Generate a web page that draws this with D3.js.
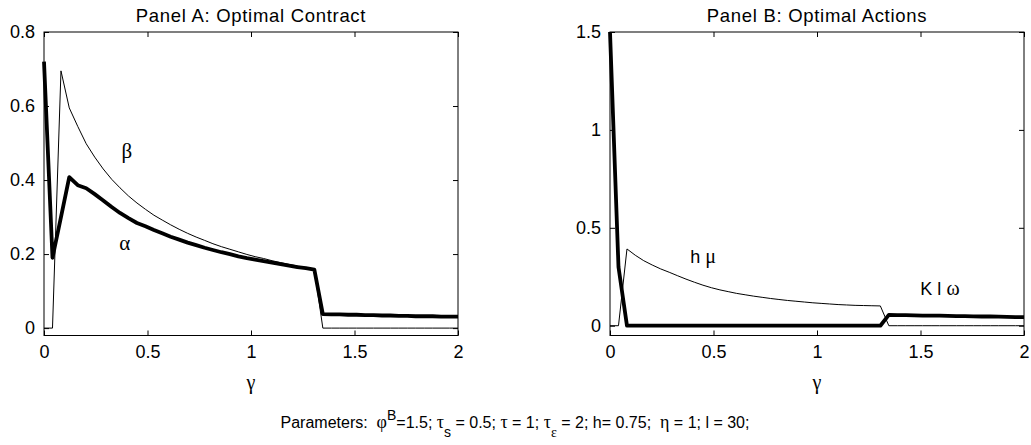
<!DOCTYPE html>
<html>
<head>
<meta charset="utf-8">
<script src="https://cdn.jsdelivr.net/npm/d3@7"></script>
<style>
  html, body { margin: 0; padding: 0; background: #fff; }
  svg { display: block; }
  text { fill: #000; }
</style>
</head>
<body>
<svg id="chart" width="1031" height="445"></svg>
<script>
// ---- data ----
const gamma = [0, 0.041, 0.082, 0.122, 0.163, 0.204, 0.245, 0.286, 0.327, 0.367,
  0.408, 0.449, 0.490, 0.531, 0.571, 0.612, 0.653, 0.694, 0.735, 0.776,
  0.816, 0.857, 0.898, 0.939, 0.980, 1.020, 1.061, 1.102, 1.143, 1.184,
  1.224, 1.265, 1.306, 1.347, 1.388, 1.429, 1.469, 1.510, 1.551, 1.592,
  1.633, 1.673, 1.714, 1.755, 1.796, 1.837, 1.878, 1.918, 1.959, 2.000];

const alphaVals = [0.72, 0.19, 0.30, 0.408, 0.386, 0.378, 0.362, 0.345, 0.327, 0.311,
  0.297, 0.284, 0.275, 0.265, 0.256, 0.247, 0.239, 0.231, 0.224, 0.217,
  0.211, 0.205, 0.200, 0.194, 0.189, 0.185, 0.181, 0.177, 0.173, 0.169,
  0.165, 0.162, 0.158, 0.038, 0.037, 0.037, 0.036, 0.036, 0.035, 0.035,
  0.034, 0.034, 0.033, 0.033, 0.032, 0.032, 0.032, 0.031, 0.031, 0.031];

const betaVals = [0, 0, 0.695, 0.595, 0.545, 0.498, 0.462, 0.430, 0.402, 0.379,
  0.357, 0.338, 0.321, 0.305, 0.292, 0.279, 0.267, 0.256, 0.246, 0.237,
  0.228, 0.220, 0.213, 0.206, 0.199, 0.193, 0.188, 0.182, 0.177, 0.172,
  0.168, 0.163, 0.159, 0, 0, 0, 0, 0, 0, 0,
  0, 0, 0, 0, 0, 0, 0, 0, 0, 0];

const hmuVals = [0, 0, 0.392, 0.360, 0.332, 0.310, 0.290, 0.273, 0.255, 0.238,
  0.222, 0.207, 0.194, 0.183, 0.174, 0.165, 0.158, 0.151, 0.145, 0.139,
  0.134, 0.129, 0.125, 0.121, 0.117, 0.114, 0.111, 0.108, 0.106, 0.104,
  0.103, 0.102, 0.101, 0, 0, 0, 0, 0, 0, 0,
  0, 0, 0, 0, 0, 0, 0, 0, 0, 0];

const klwVals = [1.5, 0.30, 0, 0, 0, 0, 0, 0, 0, 0,
  0, 0, 0, 0, 0, 0, 0, 0, 0, 0,
  0, 0, 0, 0, 0, 0, 0, 0, 0, 0,
  0, 0, 0, 0.055, 0.054, 0.054, 0.053, 0.052, 0.052, 0.051,
  0.050, 0.049, 0.049, 0.048, 0.047, 0.047, 0.046, 0.045, 0.044, 0.044];

const xTicks = [0, 0.5, 1, 1.5, 2];
const yTicksA = [0, 0.2, 0.4, 0.6, 0.8];
const yTicksB = [0, 0.5, 1, 1.5];
const titleA = "Panel A: Optimal Contract";
const titleB = "Panel B: Optimal Actions";

// ---- drawing ----
const svg = d3.select("#chart");
const SANS = "'Liberation Sans', Arial, sans-serif";
const SERIF = "'Liberation Serif', 'Times New Roman', serif";
const TOP = 32, BOTTOM = 335.5;

function panel(opts) {
  const x = d3.scaleLinear().domain([0, 2]).range([opts.left, opts.right]);
  const y = d3.scaleLinear().domain(opts.yDomain).range([BOTTOM, TOP]);
  const g = svg.append("g");

  const fmt = d => String(d);
  const styleAxis = sel => {
    sel.select(".domain").remove();
    sel.selectAll(".tick line").attr("stroke", "#000").attr("stroke-width", 1);
    sel.selectAll("text").attr("font-family", SANS).attr("font-size", 18).attr("fill", "#000");
  };
  g.append("g").attr("transform", `translate(0,${BOTTOM})`)
    .call(d3.axisBottom(x).tickValues(xTicks).tickFormat(fmt).tickSize(-5).tickPadding(10))
    .call(styleAxis);
  g.append("g").attr("transform", `translate(0,${TOP})`)
    .call(d3.axisTop(x).tickValues(xTicks).tickFormat("").tickSize(-5))
    .call(styleAxis);
  g.append("g").attr("transform", `translate(${opts.left},0)`)
    .call(d3.axisLeft(y).tickValues(opts.yTicks).tickFormat(fmt).tickSize(-5).tickPadding(9))
    .call(styleAxis);
  g.append("g").attr("transform", `translate(${opts.right},0)`)
    .call(d3.axisRight(y).tickValues(opts.yTicks).tickFormat("").tickSize(-5))
    .call(styleAxis);

  g.append("rect")
    .attr("x", opts.left).attr("y", TOP)
    .attr("width", opts.right - opts.left).attr("height", BOTTOM - TOP)
    .attr("fill", "none").attr("stroke", "#000").attr("stroke-width", 1);

  const line = vals => d3.line().x((d, i) => x(gamma[i])).y(d => y(d))(vals);
  g.append("path").attr("d", line(opts.thin))
    .attr("fill", "none").attr("stroke", "#000").attr("stroke-width", 1);
  g.append("path").attr("d", line(opts.thick))
    .attr("fill", "none").attr("stroke", "#000").attr("stroke-width", 3.8)
    .attr("stroke-linejoin", "round");

  g.append("text").attr("x", (opts.left + opts.right) / 2).attr("y", 22)
    .attr("text-anchor", "middle").attr("font-family", SANS).attr("font-size", 18.5)
    .attr("letter-spacing", 0.7)
    .text(opts.title);
  g.append("text").attr("x", (opts.left + opts.right) / 2).attr("y", 389)
    .attr("text-anchor", "middle").attr("font-family", SERIF).attr("font-size", 20)
    .text("γ");
  return { x, y, g };
}

const A = panel({ left: 44, right: 458, yDomain: [-0.02, 0.8], yTicks: yTicksA,
  thin: betaVals, thick: alphaVals, title: titleA });
const B = panel({ left: 610, right: 1024, yDomain: [-0.05, 1.5], yTicks: yTicksB,
  thin: hmuVals, thick: klwVals, title: titleB });

// in-plot labels
A.g.append("text").attr("x", A.x(0.40)).attr("y", A.y(0.48)).attr("dy", "0.35em")
  .attr("text-anchor", "middle").attr("font-family", SERIF).attr("font-size", 21).text("β");
A.g.append("text").attr("x", A.x(0.39)).attr("y", A.y(0.23)).attr("dy", "0.35em")
  .attr("text-anchor", "middle").attr("font-family", SERIF).attr("font-size", 21).text("α");

const hm = B.g.append("text").attr("x", B.x(0.45)).attr("y", B.y(0.35)).attr("dy", "0.35em")
  .attr("text-anchor", "middle").attr("font-family", SANS).attr("font-size", 18);
hm.append("tspan").text("h ");
hm.append("tspan").attr("font-family", SERIF).attr("font-size", 20).text("μ");

const kl = B.g.append("text").attr("x", B.x(1.594)).attr("y", B.y(0.19)).attr("dy", "0.35em")
  .attr("text-anchor", "middle").attr("font-family", SANS).attr("font-size", 18);
kl.append("tspan").text("K l ");
kl.append("tspan").attr("font-family", SERIF).attr("font-size", 20).text("ω");

// parameters line
const params = svg.append("text").attr("x", 515).attr("y", 428)
  .attr("text-anchor", "middle").attr("font-family", SANS).attr("font-size", 16)
  .attr("xml:space", "preserve");
const parts = [
  ["Parameters:  ", null, SANS],
  ["φ", null, SERIF], ["B", "sup", SANS], ["=1.5; ", null, SANS],
  ["τ", null, SERIF], ["s", "sub", SANS], [" = 0.5; ", null, SANS],
  ["τ", null, SERIF], [" = 1; ", null, SANS],
  ["τ", null, SERIF], ["ε", "sub", SERIF], [" = 2; h= 0.75;  ", null, SANS],
  ["η", null, SERIF], [" = 1; l = 30;", null, SANS]
];
let shift = 0;
parts.forEach(([t, kind, fam]) => {
  let dy;
  if (kind === "sup") dy = -8 - shift;
  else if (kind === "sub") dy = 9 - shift;
  else dy = -shift;
  shift += dy;
  params.append("tspan").attr("dy", dy).attr("font-family", fam)
    .attr("font-size", kind ? 14 : (fam === SERIF ? 18 : 16))
    .style("white-space", "pre").text(t);
});
</script>
</body>
</html>
